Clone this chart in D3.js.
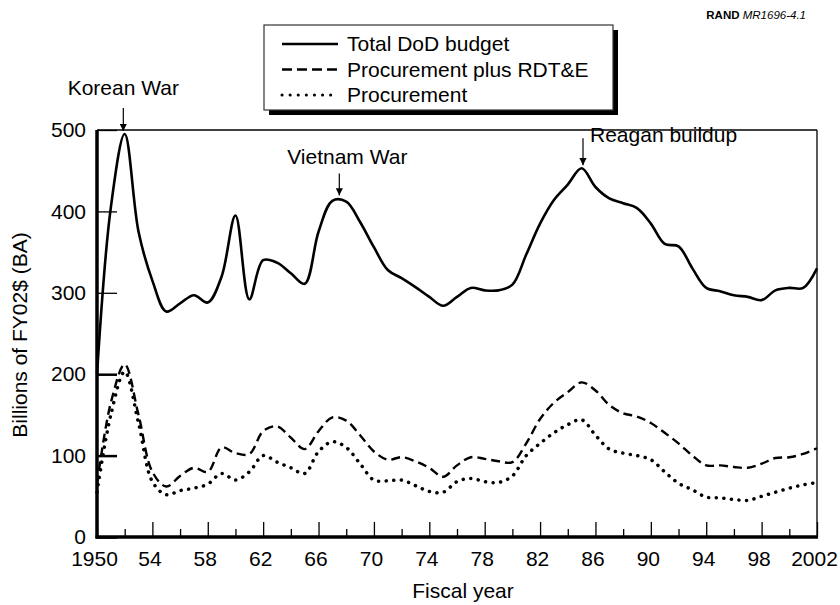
<!DOCTYPE html>
<html>
<head>
<meta charset="utf-8">
<script src="https://cdn.jsdelivr.net/npm/d3@7"></script>
<style>
  body { margin: 0; background: #fff; }
  svg { font-family: "Liberation Sans", Arial, Helvetica, sans-serif; }
  .axis text { font-size: 21px; fill: #000; }
  .axis path.domain { display: none; }
</style>
</head>
<body>
<div id="graph"></div>
<script>
// fiscal years and series, billions of FY02 dollars (budget authority)
var years = d3.range(1950, 2003);

var totalDoD = [200, 405, 495, 375, 315, 277, 287, 297, 288, 320,
  395, 292, 340, 337, 324, 311, 375, 413, 412, 387,
  356, 328, 318, 307, 295, 284, 295, 306, 303, 303,
  310, 347, 385, 414, 433, 453, 430, 416, 410, 404,
  385, 360, 357, 330, 306, 302, 297, 295, 291, 303,
  306, 306, 330];

var procPlusRDTE = [65, 165, 212, 150, 80, 62, 75, 85, 80, 110,
  103, 102, 130, 136, 122, 108, 130, 147, 143, 125,
  105, 95, 98, 93, 85, 74, 88, 98, 96, 93,
  92, 115, 145, 165, 178, 190, 180, 162, 152, 148,
  140, 128, 115, 100, 88, 88, 86, 85, 90, 97,
  98, 102, 109];

var procurement = [55, 150, 203, 140, 68, 52, 57, 60, 65, 78,
  70, 80, 100, 92, 85, 78, 105, 117, 110, 90,
  70, 69, 70, 63, 56, 55, 68, 72, 68, 67,
  75, 100, 115, 128, 138, 144, 125, 108, 103, 100,
  95, 80, 66, 58, 49, 48, 46, 45, 50, 55,
  60, 64, 67];

var seriesNames = ['Total DoD budget', 'Procurement plus RDT&E', 'Procurement'];

// axis ticks
var yTicks = [0, 100, 200, 300, 400, 500];
var xMajorTicks = d3.range(1950, 2003, 4);
var xMinorTicks = d3.range(1952, 2002, 4);
var xTickLabel = function(d) { return (d === 1950 || d === 2002) ? String(d) : String(d).slice(2); };

// annotations: label, year and value the arrow points at
var notes = [
  {label: 'Korean War', year: 1951.9, value: 495},
  {label: 'Vietnam War', year: 1967.5, value: 416},
  {label: 'Reagan buildup', year: 1985.1, value: 453}
];

var W = 840, H = 605;
var margin = {top: 130, right: 23, bottom: 68, left: 97};
var width = W - margin.left - margin.right;
var height = H - margin.top - margin.bottom;

var x = d3.scaleLinear().domain([1950, 2002]).range([0, width]);
var y = d3.scaleLinear().domain([0, 500]).range([height, 0]);

var svg = d3.select('#graph').append('svg')
  .attr('width', W)
  .attr('height', H);

var g = svg.append('g')
  .attr('transform', 'translate(' + margin.left + ',' + margin.top + ')');

// frame: thin top and right lines
g.append('line').attr('x1', 0).attr('x2', width).attr('y1', 0).attr('y2', 0)
  .attr('stroke', '#000').attr('stroke-width', 1.3);
g.append('line').attr('x1', width).attr('x2', width).attr('y1', 0).attr('y2', height)
  .attr('stroke', '#000').attr('stroke-width', 1.3);

// y axis, ticks point inward
var yAxis = g.append('g').attr('class', 'axis')
  .call(d3.axisLeft(y).tickValues(yTicks).tickSize(-20).tickPadding(11));
yAxis.selectAll('.tick line')
  .attr('stroke', '#000')
  .attr('stroke-width', function(d) { return d <= 200 ? 2.5 : 1.3; });

// x axis, major and minor ticks inward
var xAxis = g.append('g').attr('class', 'axis')
  .attr('transform', 'translate(0,' + height + ')')
  .call(d3.axisBottom(x).tickValues(xMajorTicks).tickFormat(xTickLabel).tickSize(-15).tickPadding(14));
xAxis.selectAll('.tick line').attr('stroke', '#000').attr('stroke-width', 1.3);
xAxis.selectAll('.tick text').attr('dx', -3);

var xMinor = g.append('g').attr('class', 'axis')
  .attr('transform', 'translate(0,' + height + ')')
  .call(d3.axisBottom(x).tickValues(xMinorTicks).tickFormat('').tickSize(-8));
xMinor.selectAll('.tick line').attr('stroke', '#000').attr('stroke-width', 1.3);

// heavy axis lines
g.append('line').attr('x1', 0).attr('x2', 0).attr('y1', 0).attr('y2', height + 1.5)
  .attr('stroke', '#000').attr('stroke-width', 3.5);
g.append('line').attr('x1', -1.5).attr('x2', width + 1).attr('y1', height).attr('y2', height)
  .attr('stroke', '#000').attr('stroke-width', 3.5);

// lines
var line = d3.line()
  .x(function(d, i) { return x(years[i]); })
  .y(function(d) { return y(d); })
  .curve(d3.curveCatmullRom.alpha(0.5));

var styles = [
  {dash: null, width: 2.6, cap: 'butt'},
  {dash: '9,5', width: 2.4, cap: 'butt'},
  {dash: '0.1,7.5', width: 3.5, cap: 'round'}
];

[totalDoD, procPlusRDTE, procurement].forEach(function(s, i) {
  g.append('path')
    .datum(s)
    .attr('d', line)
    .attr('fill', 'none')
    .attr('stroke', '#000')
    .attr('stroke-width', styles[i].width)
    .attr('stroke-linecap', styles[i].cap)
    .attr('stroke-dasharray', styles[i].dash);
});

// annotations with arrows
svg.append('defs').append('marker')
  .attr('id', 'arrow')
  .attr('viewBox', '0 0 10 10')
  .attr('refX', 10).attr('refY', 5)
  .attr('markerWidth', 6).attr('markerHeight', 6)
  .attr('orient', 'auto')
  .append('path').attr('d', 'M0,0L10,5L0,10z').attr('fill', '#000');

var noteLayout = [
  {len: 23, tx: 0, ty: -33, anchor: 'middle'},
  {len: 22, tx: 8, ty: -29, anchor: 'middle'},
  {len: 27, tx: 7, ty: -16, anchor: 'start'}
];

notes.forEach(function(n, i) {
  var px = x(n.year), py = y(n.value) - 3, L = noteLayout[i];
  g.append('line')
    .attr('x1', px).attr('x2', px)
    .attr('y1', py - L.len).attr('y2', py)
    .attr('stroke', '#000').attr('stroke-width', 1.2)
    .attr('marker-end', 'url(#arrow)');
  g.append('text')
    .attr('x', px + L.tx)
    .attr('y', py - L.len + L.ty + 20)
    .attr('text-anchor', L.anchor)
    .attr('font-size', 21)
    .text(n.label);
});

// legend
var legend = svg.append('g').attr('transform', 'translate(264,25)');
legend.append('rect').attr('x', 5).attr('y', 5).attr('width', 349).attr('height', 85).attr('fill', '#000');
legend.append('rect').attr('x', 0).attr('y', 0).attr('width', 349).attr('height', 85)
  .attr('fill', '#fff').attr('stroke', '#333').attr('stroke-width', 1.2);

seriesNames.forEach(function(name, i) {
  var ly = 19 + i * 25.5;
  legend.append('line')
    .attr('x1', 18).attr('x2', 74).attr('y1', ly).attr('y2', ly)
    .attr('stroke', '#000')
    .attr('stroke-width', i === 2 ? 3 : 2.4)
    .attr('stroke-linecap', styles[i].cap)
    .attr('stroke-dasharray', i === 1 ? '10,5' : (i === 2 ? '0.1,8' : null));
  legend.append('text')
    .attr('x', 83).attr('y', ly + 7)
    .attr('font-size', 21)
    .text(name);
});

// axis titles
svg.append('text')
  .attr('transform', 'translate(27,335) rotate(-90)')
  .attr('text-anchor', 'middle')
  .attr('font-size', 21)
  .text('Billions of FY02$ (BA)');

svg.append('text')
  .attr('x', 463).attr('y', 598)
  .attr('text-anchor', 'middle')
  .attr('font-size', 21)
  .text('Fiscal year');

// source tag
var tag = svg.append('text')
  .attr('x', 806).attr('y', 19)
  .attr('text-anchor', 'end')
  .attr('font-size', 11.5);
tag.append('tspan').attr('font-weight', 'bold').text('RAND ');
tag.append('tspan').attr('font-style', 'italic').text('MR1696-4.1');
</script>
</body>
</html>
